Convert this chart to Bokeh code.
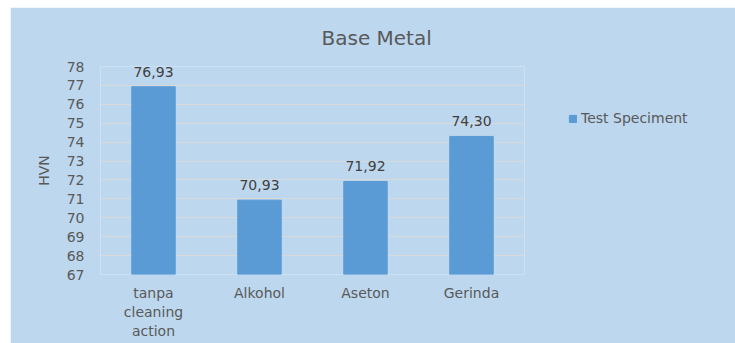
from bokeh.plotting import figure
from bokeh.models import (ColumnDataSource, Range1d, SingleIntervalTicker, Legend,
                          LegendItem, LinearAxis, FixedTicker)
from bokeh.core.properties import value
from bokeh.embed import file_html
from bokeh.resources import INLINE

categories = ["tanpa cleaning action", "Alkohol", "Aseton", "Gerinda"]
hvn = [76.93, 70.93, 71.92, 74.30]
labels = ["76,93", "70,93", "71,92", "74,30"]
series_name = "Test Speciment"
title_text = "Base Metal"
y_label = "HVN"

FONT = "DejaVu Sans"
TXT = "#595959"
BG = "#BDD7EE"
BAR = "#5B9BD5"

# category slots: one unit per category, bar in the middle of its slot
centers = [i + 0.5 for i in range(len(categories))]
src = ColumnDataSource(dict(x=centers, v=hvn, lab=labels))

p = figure(x_range=Range1d(0, len(categories)), y_range=Range1d(67, 78),
           frame_width=424, frame_height=208, output_backend="svg", toolbar_location=None,
           min_border_left=90, min_border_right=211, min_border_top=57, min_border_bottom=70,
           styles={"margin-left": "10px", "margin-top": "7px"})
p.background_fill_color = BG
p.border_fill_color = BG
p.outline_line_color = None

r = p.vbar(x="x", top="v", bottom=67, width=0.41, source=src,
           fill_color=BAR, line_color=BAR)

p.text(x="x", y="v", text="lab", source=src, text_align="center", text_baseline="bottom",
       y_offset=-10, text_font=value(FONT), text_font_size="14px", text_color="#404040")

p.title.text = title_text
p.title.align = "left"
p.title.text_font = FONT
p.title.text_font_size = "20px"
p.title.text_font_style = "normal"
p.title.text_color = TXT
p.title.offset = 221
p.title.standoff = 33

p.yaxis.ticker = SingleIntervalTicker(interval=1)
p.yaxis.axis_line_color = None
p.yaxis.major_tick_line_color = None
p.yaxis.minor_tick_line_color = None
p.yaxis.major_label_standoff = 10
p.yaxis.major_label_text_font = FONT
p.yaxis.major_label_text_font_size = "14px"
p.yaxis.major_label_text_color = TXT
p.yaxis.axis_label = y_label
p.yaxis.axis_label_text_font = FONT
p.yaxis.axis_label_text_font_size = "14px"
p.yaxis.axis_label_text_font_style = "normal"
p.yaxis.axis_label_text_color = TXT
p.yaxis.axis_label_standoff = 12

p.xaxis.visible = False

# category labels, wrapped onto up to three lines, one stacked axis per line
wrapped = [c.split(" ") if len(c) > 12 else [c] for c in categories]
n_lines = max(len(w) for w in wrapped)
for k in range(n_lines):
    ax = LinearAxis(ticker=FixedTicker(ticks=centers))
    ax.major_label_overrides = {c: (w[k] if k < len(w) else " ") for c, w in zip(centers, wrapped)}
    ax.axis_line_color = None
    ax.major_tick_line_color = None
    ax.minor_tick_line_color = None
    ax.major_tick_out = 0
    ax.major_tick_in = 0
    ax.major_label_standoff = 10 if k == 0 else 0
    ax.major_label_text_font = FONT
    ax.major_label_text_font_size = "14px"
    ax.major_label_text_color = TXT
    p.add_layout(ax, "below")

p.xgrid.grid_line_color = None
p.ygrid.grid_line_color = "#D9D9D9"
p.ygrid.grid_line_width = 1

legend = Legend(items=[LegendItem(label=series_name, renderers=[r])], location="top_left")
legend.background_fill_alpha = 0
legend.border_line_color = None
legend.label_text_font = FONT
legend.label_text_font_size = "14px"
legend.label_text_color = TXT
legend.glyph_width = 9
legend.glyph_height = 9
legend.label_standoff = 4
legend.padding = 0
legend.margin = 44
p.add_layout(legend, "right")

open("out.html", "w").write(file_html(p, INLINE))
